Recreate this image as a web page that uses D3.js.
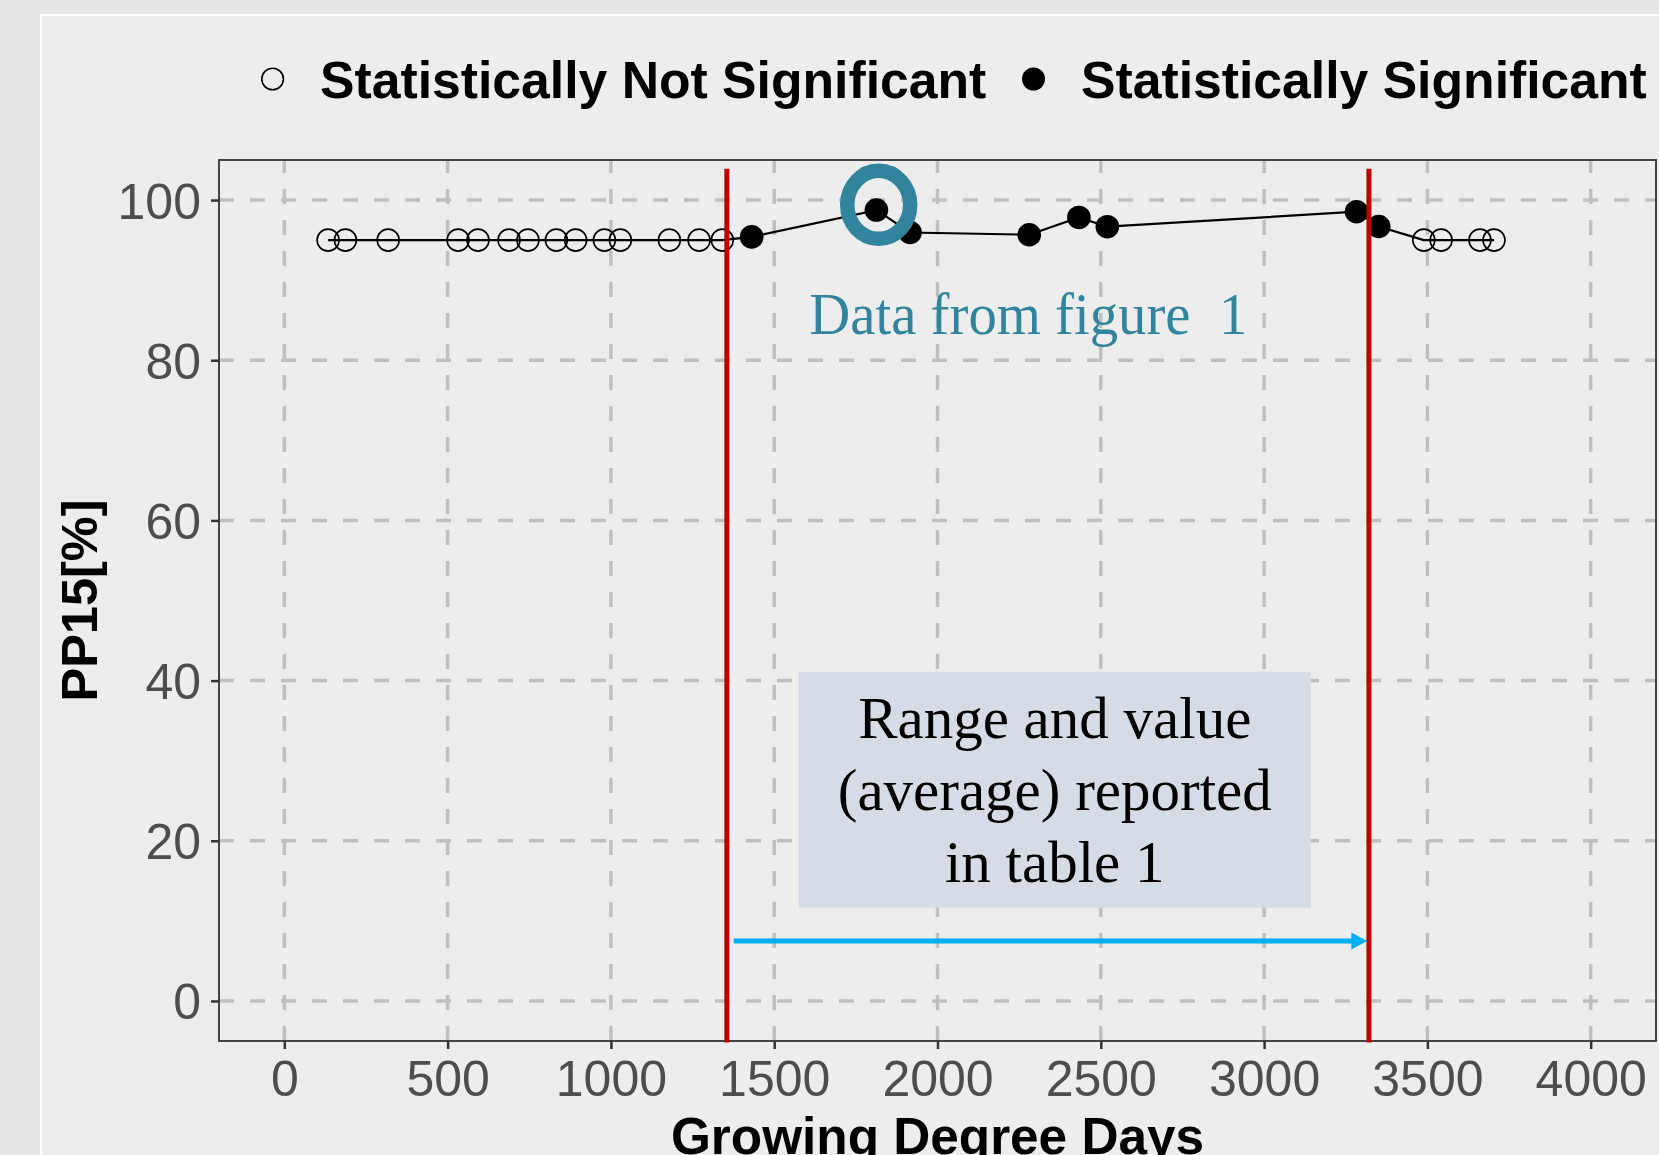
<!DOCTYPE html>
<html>
<head>
<meta charset="utf-8">
<script src="https://cdn.jsdelivr.net/npm/d3@7"></script>
<style>
  html, body { margin: 0; padding: 0; background: #e5e5e5; }
  svg { display: block; }
</style>
</head>
<body>
<div id="chart"></div>
<script>
// growing degree days and PP15 values
const gdd = [134, 187, 318, 532, 593, 688, 746, 833, 892, 980, 1029, 1179, 1270, 1341,
  1431, 1813, 1916, 2281, 2433, 2520, 3283, 3351, 3489, 3542, 3661, 3704];
const pp15 = [95, 95, 95, 95, 95, 95, 95, 95, 95, 95, 95, 95, 95, 95,
  95.4, 98.75, 95.95, 95.67, 97.83, 96.67, 98.54, 96.7, 95, 95, 95, 95];
const significant = [0, 0, 0, 0, 0, 0, 0, 0, 0, 0, 0, 0, 0, 0,
  1, 1, 1, 1, 1, 1, 1, 1, 0, 0, 0, 0];

const xTicks = [0, 500, 1000, 1500, 2000, 2500, 3000, 3500, 4000];
const yTicks = [0, 20, 40, 60, 80, 100];
const legendLabels = ["Statistically Not Significant", "Statistically Significant"];

// annotations added on top of the plot
const rangeLimits = [1355, 3321];
const rangeArrow = [1376, 3316, 7.5];
const highlight = [1820, 99.4];
const highlightLabel = "Data from figure  1";
const boxExtent = [1575, 3143, 41.1, 11.65];
const boxLines = ["Range and value", "(average) reported", "in table 1"];

const width = 1659, height = 1155;
const panel = {left: 219, right: 1656, top: 160, bottom: 1041};
const sans = "'Liberation Sans', Arial, sans-serif";
const serif = "'Liberation Serif', 'Times New Roman', serif";

const svg = d3.select("#chart").append("svg")
  .attr("width", width).attr("height", height);

svg.append("rect").attr("width", width).attr("height", height).attr("fill", "#e5e5e5");
svg.append("rect").attr("x", 41).attr("y", 15).attr("width", width).attr("height", height)
  .attr("fill", "#ededed").attr("stroke", "#ffffff").attr("stroke-width", 2);

const x = d3.scaleLinear().domain([-200, 4200]).range([panel.left, panel.right]);
const y = d3.scaleLinear().domain([-5, 105]).range([panel.bottom, panel.top]);

// grid
const grid = svg.append("g").attr("stroke", "#bfbfbf").attr("stroke-width", 3.5)
  .attr("stroke-dasharray", "15,16");
grid.selectAll(".gx").data(xTicks).enter().append("line")
  .attr("x1", d => x(d)).attr("x2", d => x(d))
  .attr("y1", panel.bottom).attr("y2", panel.top);
grid.selectAll(".gy").data(yTicks).enter().append("line")
  .attr("x1", panel.left).attr("x2", panel.right)
  .attr("y1", d => y(d)).attr("y2", d => y(d));

svg.append("rect")
  .attr("x", panel.left).attr("y", panel.top)
  .attr("width", panel.right - panel.left).attr("height", panel.bottom - panel.top)
  .attr("fill", "none").attr("stroke", "#444").attr("stroke-width", 2);

// axes
const xAxis = svg.append("g").attr("transform", `translate(0,${panel.bottom})`)
  .call(d3.axisBottom(x).tickValues(xTicks).tickSize(8).tickPadding(10).tickFormat(d3.format("d")));
const yAxis = svg.append("g").attr("transform", `translate(${panel.left},0)`)
  .call(d3.axisLeft(y).tickValues(yTicks).tickSize(8).tickPadding(10));
[xAxis, yAxis].forEach(a => {
  a.select(".domain").remove();
  a.selectAll(".tick line").attr("stroke", "#333").attr("stroke-width", 2.5);
  a.selectAll(".tick text").attr("fill", "#4d4d4d").style("font-family", sans).style("font-size", "50px");
});
xAxis.selectAll(".tick text").attr("dy", null).attr("y", 55);
yAxis.selectAll(".tick text").attr("dy", "0.36em");

svg.append("text").attr("x", (panel.left + panel.right) / 2).attr("y", 1153.5)
  .attr("text-anchor", "middle").style("font-family", sans).style("font-weight", "bold")
  .style("font-size", "51.3px").text("Growing Degree Days");
svg.append("text").attr("transform", `translate(96.7,${(panel.top + panel.bottom) / 2}) rotate(-90)`)
  .attr("text-anchor", "middle").style("font-family", sans).style("font-weight", "bold")
  .style("font-size", "50.5px").text("PP15[%]");

// data
const points = gdd.map((g, i) => ({g: g, v: pp15[i], s: significant[i]}));
svg.append("path").datum(points)
  .attr("fill", "none").attr("stroke", "#000").attr("stroke-width", 2.2)
  .attr("d", d3.line().x(d => x(d.g)).y(d => y(d.v)));
svg.selectAll(".pt").data(points).enter().append("circle")
  .attr("cx", d => x(d.g)).attr("cy", d => y(d.v))
  .attr("r", d => d.s ? 11.8 : 11)
  .attr("fill", d => d.s ? "#000" : "none")
  .attr("stroke", "#000").attr("stroke-width", d => d.s ? 0 : 1.6);

// legend
const legendX = [[272.6, 320], [1033.5, 1081]];
legendLabels.forEach((lab, i) => {
  svg.append("circle").attr("cx", legendX[i][0]).attr("cy", 79)
    .attr("r", i ? 11.5 : 10.8).attr("fill", i ? "#000" : "none")
    .attr("stroke", "#000").attr("stroke-width", i ? 0 : 1.6);
  svg.append("text").attr("x", legendX[i][1]).attr("y", 98)
    .style("font-family", sans).style("font-weight", "bold").style("font-size", "51.7px")
    .text(lab);
});

// overlays
svg.selectAll(".limit").data(rangeLimits).enter().append("line")
  .attr("x1", d => x(d)).attr("x2", d => x(d))
  .attr("y1", y(103.9)).attr("y2", panel.bottom + 1.5)
  .attr("stroke", "#c00000").attr("stroke-width", 5);

svg.append("ellipse").attr("cx", x(highlight[0])).attr("cy", y(highlight[1]))
  .attr("rx", 31.5).attr("ry", 34).attr("fill", "none")
  .attr("stroke", "#31849b").attr("stroke-width", 14.5);

svg.append("text").attr("x", 809.3).attr("y", 334)
  .attr("textLength", 438).attr("lengthAdjust", "spacingAndGlyphs")
  .style("font-family", serif).style("font-size", "60px").style("white-space", "pre")
  .attr("fill", "#31849b")
  .text(highlightLabel);

svg.append("rect")
  .attr("x", x(boxExtent[0])).attr("y", y(boxExtent[2]))
  .attr("width", x(boxExtent[1]) - x(boxExtent[0]))
  .attr("height", y(boxExtent[3]) - y(boxExtent[2]))
  .attr("fill", "#d6dce5");
const boxCx = (x(boxExtent[0]) + x(boxExtent[1])) / 2;
svg.selectAll(".boxline").data(boxLines).enter().append("text")
  .attr("x", boxCx).attr("y", (d, i) => 738.3 + i * 71.7)
  .attr("text-anchor", "middle").style("font-family", serif).style("font-size", "59px")
  .text(d => d);

const ax0 = x(rangeArrow[0]), ax1 = x(rangeArrow[1]), ay = y(rangeArrow[2]);
svg.append("line").attr("x1", ax0).attr("x2", ax1 - 14).attr("y1", ay).attr("y2", ay)
  .attr("stroke", "#00b0f0").attr("stroke-width", 5);
svg.append("path")
  .attr("d", `M${ax1},${ay} L${ax1 - 16},${ay - 8.5} L${ax1 - 16},${ay + 8.5} Z`)
  .attr("fill", "#00b0f0");
</script>
</body>
</html>
